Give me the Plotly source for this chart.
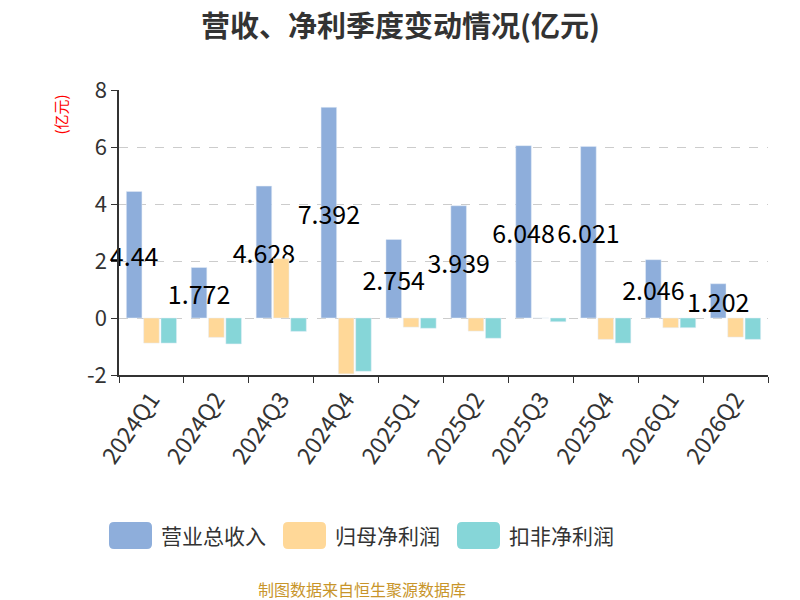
import plotly.graph_objects as go

# quarterly revenue / net profit (亿元)
quarters = ["2024Q1", "2024Q2", "2024Q3", "2024Q4", "2025Q1",
            "2025Q2", "2025Q3", "2025Q4", "2026Q1", "2026Q2"]
revenue = [4.44, 1.772, 4.628, 7.392, 2.754, 3.939, 6.048, 6.021, 2.046, 1.202]
net_profit = [-0.88, -0.68, 2.08, -1.96, -0.32, -0.46, 0.0, -0.75, -0.34, -0.67]
net_profit_ded = [-0.88, -0.91, -0.47, -1.87, -0.36, -0.71, -0.13, -0.88, -0.34, -0.75]

names = ["营业总收入", "归母净利润", "扣非净利润"]
colors = ["#8EAEDB", "#FFD898", "#86D6D8"]
y_ticks = [-2, 0, 2, 4, 6, 8]
y_ticktext = ["-2", "0", "2", "4", "6", "8"]

FONT = "Noto Sans CJK SC"
OFF = 8  # page body margin
W, H = 800 - OFF, 600
L, R, T, B = 119 - OFF, 32, 90 - OFF, 225 + OFF

fig = go.Figure()
fig.add_trace(go.Bar(x=quarters, y=revenue, name=names[0], marker_color=colors[0],
                     text=[f"{v:g}" for v in revenue], textposition="inside",
                     insidetextanchor="middle", textangle=0, constraintext="none",
                     cliponaxis=False,
                     insidetextfont=dict(color="#000", size=25, family=FONT),
                     showlegend=False))
fig.add_trace(go.Bar(x=quarters, y=net_profit, name=names[1],
                     marker_color=colors[1], showlegend=False))
fig.add_trace(go.Bar(x=quarters, y=net_profit_ded, name=names[2],
                     marker_color=colors[2], showlegend=False))


def px2paper(px, py):
    # screen pixel -> paper coords
    px, py = px - OFF, py - OFF
    return (px - L) / (W - L - R), (H - B - py) / (H - T - B)


def rrect(x0, y0, x1, y1, r):
    def p(x, y):
        a, b = px2paper(x, y)
        return f"{a:.5f},{b:.5f}"
    return (f"M{p(x0 + r, y0)} L{p(x1 - r, y0)} Q{p(x1, y0)} {p(x1, y0 + r)} "
            f"L{p(x1, y1 - r)} Q{p(x1, y1)} {p(x1 - r, y1)} L{p(x0 + r, y1)} "
            f"Q{p(x0, y1)} {p(x0, y1 - r)} L{p(x0, y0 + r)} Q{p(x0, y0)} {p(x0 + r, y0)} Z")


shapes = []
annotations = []
legend_x = [109, 283, 457]
for i, nm in enumerate(names):
    x0 = legend_x[i]
    shapes.append(dict(type="path", xref="paper", yref="paper",
                       path=rrect(x0, 522, x0 + 43, 549, 5),
                       fillcolor=colors[i], line_width=0))
    tx, ty = px2paper(x0 + 50, 535)
    annotations.append(dict(text=nm, x=tx, y=ty, xref="paper", yref="paper",
                            xanchor="left", yanchor="middle", showarrow=False,
                            font=dict(size=21, color="#333", family=FONT)))

ax, ay = px2paper(47, 93)
annotations.append(dict(text="(亿元)", x=ax, y=ay, xref="paper", yref="paper",
                        textangle=-90, showarrow=False,
                        font=dict(size=15, color="red", family=FONT)))
sx, sy = px2paper(362, 589)
annotations.append(dict(text="制图数据来自恒生聚源数据库", x=sx, y=sy, xref="paper",
                        yref="paper", yanchor="middle", showarrow=False,
                        font=dict(size=16, color="#C8952A", family=FONT)))

# title as a paper annotation so it can sit close to the top edge
tx, ty = px2paper(400, 24)
annotations.append(dict(text="<b>营收、净利季度变动情况(亿元)</b>", x=tx, y=ty,
                        xref="paper", yref="paper", xanchor="center", yanchor="middle",
                        showarrow=False,
                        font=dict(size=29, color="#333", family=FONT)))

fig.update_layout(
    width=W, height=H,
    margin=dict(l=L, r=R, t=T, b=B),
    paper_bgcolor="white", plot_bgcolor="white",
    font=dict(family=FONT, color="#333"),
    barmode="group", bargap=0.2, bargroupgap=0.1,
    shapes=shapes, annotations=annotations,
)
fig.update_xaxes(showline=True, linecolor="#333", linewidth=1.5,
                 ticks="outside", tickson="boundaries", ticklen=6, tickcolor="#333",
                 tickangle=-55, tickfont=dict(size=23, color="#333"),
                 showgrid=False, zeroline=False)
fig.update_yaxes(range=[-2, 8], tickvals=y_ticks, ticktext=y_ticktext,
                 showline=True, linecolor="#333", linewidth=1.5,
                 ticks="outside", ticklen=6, tickcolor="#333",
                 tickfont=dict(size=22, color="#333"),
                 showgrid=True, gridcolor="#ccc", griddash="dash", gridwidth=1.2,
                 zeroline=False)

fig.write_html("out.html")
